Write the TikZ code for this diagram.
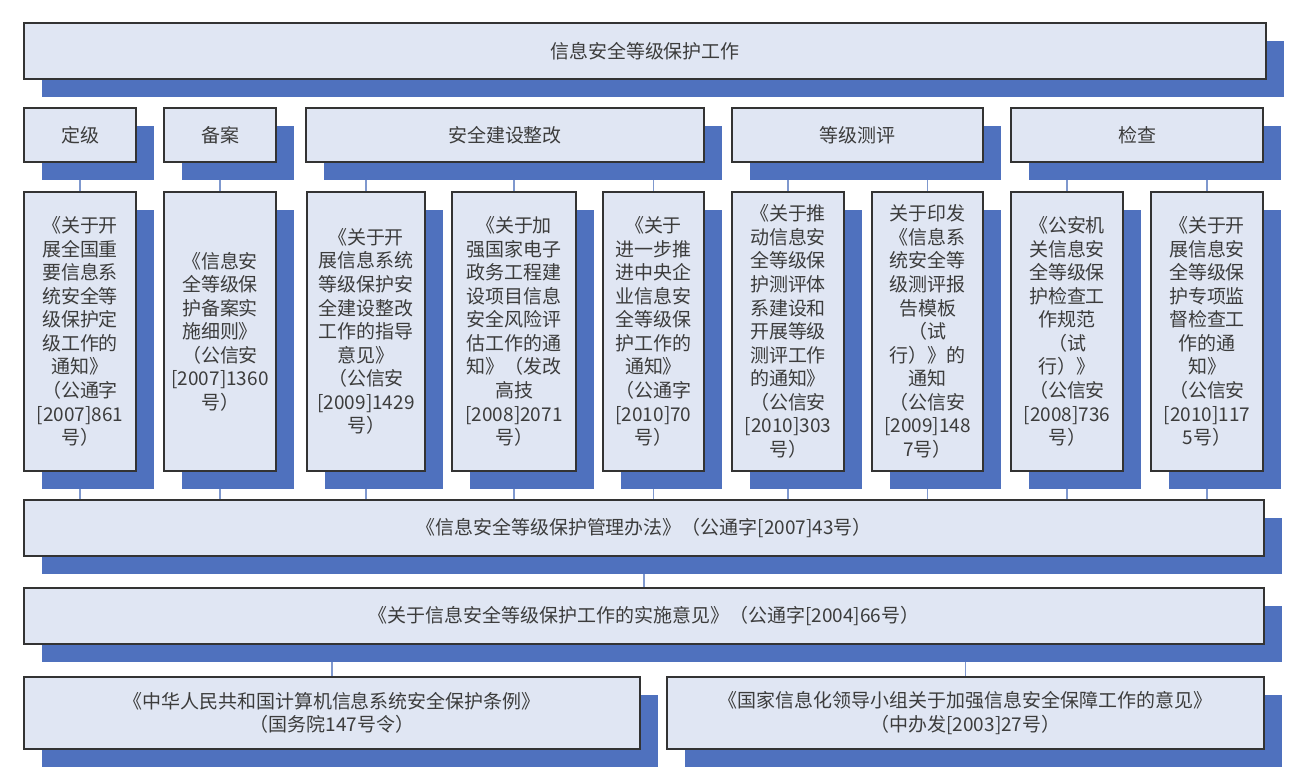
\documentclass[tikz,border=0pt]{standalone}
\usepackage{fontspec}
\setmainfont{Noto Sans CJK SC}
\usetikzlibrary{shadows,backgrounds}
\definecolor{boxfill}{RGB}{224,230,243}
\definecolor{shadowblue}{RGB}{79,113,190}
\definecolor{linkblue}{RGB}{127,152,206}
\definecolor{textgray}{RGB}{60,60,60}
\tikzset{
  card/.style={draw=black!80, line width=0.85pt, fill=boxfill, inner sep=0pt,
    align=center, text=textgray, font=\fontsize{10.8}{13.4}\selectfont,
    drop shadow={shadow xshift=0.36cm, shadow yshift=-0.36cm, fill=shadowblue, opacity=1}},
  link/.style={draw=linkblue, line width=0.6pt}
}
\begin{document}
\begin{tikzpicture}
  \useasboundingbox (0,0) rectangle (26.24,-15.58);
  % top
  \node[card, minimum width=24.84cm, minimum height=1.12cm] (top) at (12.90,-1.02) {信息安全等级保护工作};
  % second row
  \node[card, minimum width=2.24cm, minimum height=1.08cm] (dj) at (1.60,-2.70) {定级};
  \node[card, minimum width=2.24cm, minimum height=1.08cm] (ba) at (4.40,-2.70) {备案};
  \node[card, minimum width=7.96cm, minimum height=1.08cm] (zg) at (10.10,-2.70) {安全建设整改};
  \node[card, minimum width=5.02cm, minimum height=1.08cm] (cp) at (17.15,-2.70) {等级测评};
  \node[card, minimum width=5.04cm, minimum height=1.08cm] (jc) at (22.74,-2.70) {检查};
  % documents
  \node[card, minimum width=2.24cm, minimum height=5.58cm] (d1) at (1.60,-6.63)
    {《关于开\\展全国重\\要信息系\\统安全等\\级保护定\\级工作的\\通知》\\（公通字\\{[2007]861}\\号）};
  \node[card, minimum width=2.24cm, minimum height=5.58cm] (d2) at (4.40,-6.63)
    {《信息安\\全等级保\\护备案实\\施细则》\\（公信安\\{[2007]1360}\\号）};
  \node[card, minimum width=2.36cm, minimum height=5.58cm] (d3) at (7.32,-6.63)
    {《关于开\\展信息系统\\等级保护安\\全建设整改\\工作的指导\\意见》\\（公信安\\{[2009]1429}\\号）};
  \node[card, minimum width=2.48cm, minimum height=5.58cm] (d4) at (10.28,-6.63)
    {《关于加\\强国家电子\\政务工程建\\设项目信息\\安全风险评\\估工作的通\\知》（发改\\高技\\{[2008]2071}\\号）};
  \node[card, minimum width=2.02cm, minimum height=5.58cm] (d5) at (13.07,-6.63)
    {《关于\\进一步推\\进中央企\\业信息安\\全等级保\\护工作的\\通知》\\（公通字\\{[2010]70}\\号）};
  \node[card, minimum width=2.24cm, minimum height=5.58cm] (d6) at (15.76,-6.63)
    {《关于推\\动信息安\\全等级保\\护测评体\\系建设和\\开展等级\\测评工作\\的通知》\\（公信安\\{[2010]303}\\号）};
  \node[card, minimum width=2.22cm, minimum height=5.58cm] (d7) at (18.55,-6.63)
    {关于印发\\《信息系\\统安全等\\级测评报\\告模板\\（试\\行）》的\\通知\\（公信安\\{[2009]148}\\7号）};
  \node[card, minimum width=2.24cm, minimum height=5.58cm] (d8) at (21.34,-6.63)
    {《公安机\\关信息安\\全等级保\\护检查工\\作规范\\（试\\行）》\\（公信安\\{[2008]736}\\号）};
  \node[card, minimum width=2.24cm, minimum height=5.58cm] (d9) at (24.14,-6.63)
    {《关于开\\展信息安\\全等级保\\护专项监\\督检查工\\作的通\\知》\\（公信安\\{[2010]117}\\5号）};
  % laws
  \node[card, minimum width=24.80cm, minimum height=1.12cm] (law) at (12.88,-10.56)
    {《信息安全等级保护管理办法》（公通字[2007]43号）};
  \node[card, minimum width=24.80cm, minimum height=1.12cm] (ssyj) at (12.88,-12.32)
    {《关于信息安全等级保护工作的实施意见》（公通字[2004]66号）};
  \node[card, minimum width=12.32cm, minimum height=1.44cm] (tl) at (6.64,-14.26)
    {《中华人民共和国计算机信息系统安全保护条例》\\（国务院147号令）};
  \node[card, minimum width=11.94cm, minimum height=1.44cm] (yj) at (19.31,-14.26)
    {《国家信息化领导小组关于加强信息安全保障工作的意见》\\（中办发[2003]27号）};
  % links
  \begin{scope}[on background layer]
    \draw[link] (dj.south) -- (d1.north);
    \draw[link] (ba.south) -- (d2.north);
    \foreach \d in {d3, d4, d5} {
      \draw[link] (zg.south -| \d.north) -- (\d.north);
    }
    \foreach \d in {d6, d7} {
      \draw[link] (cp.south -| \d.north) -- (\d.north);
    }
    \foreach \d in {d8, d9} {
      \draw[link] (jc.south -| \d.north) -- (\d.north);
    }
    \foreach \d in {d1, d2, d3, d4, d5, d6, d7, d8, d9} {
      \draw[link] (\d.south) -- (\d.south |- law.north);
    }
    \draw[link] (law.south) -- (ssyj.north);
    \draw[link] (ssyj.south -| tl.north) -- (tl.north);
    \draw[link] (ssyj.south -| yj.north) -- (yj.north);
  \end{scope}
\end{tikzpicture}
\end{document}
